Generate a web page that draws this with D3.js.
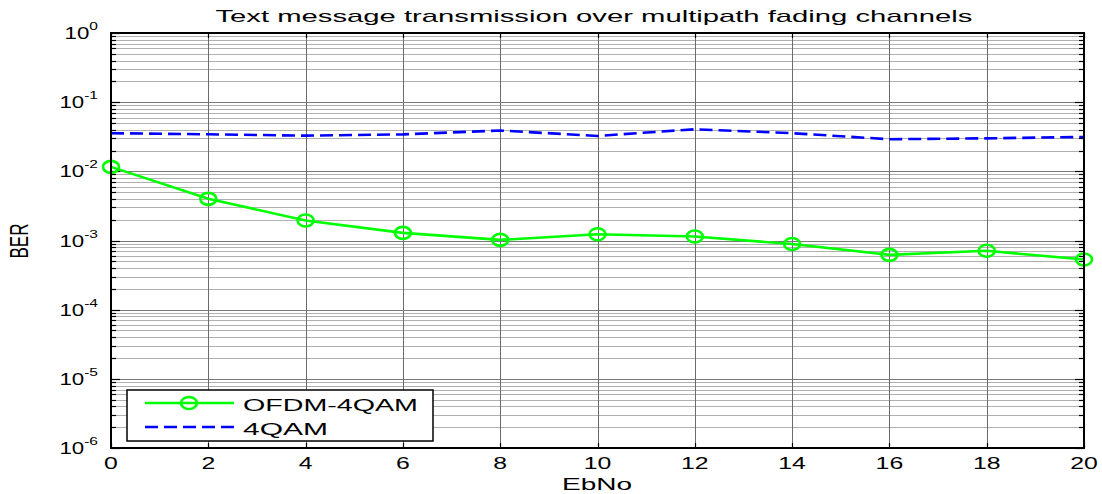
<!DOCTYPE html>
<html><head><meta charset="utf-8">
<script src="https://cdn.jsdelivr.net/npm/d3@7"></script>
<style>body{margin:0;background:#fff}svg{display:block}text{font-family:Arial,"Liberation Sans",sans-serif;fill:#000}</style>
</head><body><svg id="c" width="1102" height="494"></svg>
<script>
const ebno = [0,2,4,6,8,10,12,14,16,18,20];
const berOFDM = [0.0116,0.0040,0.00195,0.00129,0.00102,0.00123,0.00114,0.00089,0.00062,0.00071,0.00053];
const ber4QAM = [0.0356,0.0343,0.0328,0.0342,0.0389,0.0325,0.0406,0.0356,0.0291,0.0300,0.0314];
const xTicks = [0,2,4,6,8,10,12,14,16,18,20];
const yExps = [0,-1,-2,-3,-4,-5,-6];
const seriesNames = ["OFDM-4QAM","4QAM"];
const titleText = "Text message transmission over multipath fading channels";

const svg = d3.select("#c");
const L=111, R=1084, T=33, B=448;
const x = d3.scaleLinear().domain([0,20]).range([L,R]);
const y = d3.scaleLog().domain([1e-6,1]).range([B,T]);

const minor=[];
for(let e=-6;e<0;e++){for(let m=2;m<=9;m++){minor.push(m*Math.pow(10,e));}}

const g = svg.append("g");
g.selectAll(".hm").data(minor).join("line")
 .attr("x1",L).attr("x2",R).attr("y1",d=>Math.round(y(d))+0.5).attr("y2",d=>Math.round(y(d))+0.5)
 .attr("stroke","#b0b0b0").attr("stroke-width",1);
g.selectAll(".hM").data(yExps).join("line")
 .attr("x1",L).attr("x2",R).attr("y1",d=>Math.round(y(Math.pow(10,d)))+0.5).attr("y2",d=>Math.round(y(Math.pow(10,d)))+0.5)
 .attr("stroke","#7a7a7a").attr("stroke-width",1);
g.selectAll(".v").data(xTicks).join("line")
 .attr("x1",d=>Math.round(x(d))+0.5).attr("x2",d=>Math.round(x(d))+0.5).attr("y1",T).attr("y2",B)
 .attr("stroke","#6a6a6a").attr("stroke-width",1);

const tk = svg.append("g").attr("stroke","#000").attr("stroke-width",1.2);
xTicks.forEach(d=>{
  const xx=Math.round(x(d))+0.5;
  tk.append("line").attr("x1",xx).attr("x2",xx).attr("y1",B).attr("y2",B-5);
  tk.append("line").attr("x1",xx).attr("x2",xx).attr("y1",T).attr("y2",T+5);
});
minor.forEach(d=>{
  const yy=Math.round(y(d))+0.5;
  tk.append("line").attr("x1",L).attr("x2",L+5).attr("y1",yy).attr("y2",yy);
  tk.append("line").attr("x1",R).attr("x2",R-5).attr("y1",yy).attr("y2",yy);
});
yExps.forEach(e=>{
  const yy=Math.round(y(Math.pow(10,e)))+0.5;
  tk.append("line").attr("x1",L).attr("x2",L+9).attr("y1",yy).attr("y2",yy);
  tk.append("line").attr("x1",R).attr("x2",R-9).attr("y1",yy).attr("y2",yy);
});

const line = d3.line().x(d=>x(d[0])).y(d=>y(d[1]));
svg.append("path").datum(ebno.map((v,i)=>[v,ber4QAM[i]])).attr("d",line)
 .attr("fill","none").attr("stroke","#0000ff").attr("stroke-width",2.6).attr("stroke-dasharray","13,6");
svg.append("path").datum(ebno.map((v,i)=>[v,berOFDM[i]])).attr("d",line)
 .attr("fill","none").attr("stroke","#00ff00").attr("stroke-width",2.6);
svg.selectAll(".mk").data(ebno.map((v,i)=>[v,berOFDM[i]])).join("ellipse")
 .attr("cx",d=>x(d[0])).attr("cy",d=>y(d[1])).attr("rx",8).attr("ry",6)
 .attr("fill","none").attr("stroke","#00ff00").attr("stroke-width",2.6);

svg.append("rect").attr("x",L).attr("y",T).attr("width",R-L).attr("height",B-T)
 .attr("fill","none").attr("stroke","#000").attr("stroke-width",2);

yExps.forEach(e=>{
  const t = svg.append("text").attr("transform",`translate(98,${y(Math.pow(10,e))+6}) scale(1.35,1)`)
    .attr("text-anchor","end").attr("font-size",16.5);
  t.append("tspan").text("10");
  t.append("tspan").attr("dy",-9).attr("font-size",11.5).text(String(e));
});
xTicks.forEach(d=>{
  svg.append("text").attr("transform",`translate(${x(d)},469) scale(1.55,1)`)
   .attr("text-anchor","middle").attr("font-size",16).text(d);
});
svg.append("text").attr("x",594).attr("y",22).attr("text-anchor","middle").attr("font-size",17)
 .attr("textLength",757).attr("lengthAdjust","spacingAndGlyphs").text(titleText);
svg.append("text").attr("x",597).attr("y",490).attr("text-anchor","middle").attr("font-size",16)
 .attr("textLength",70).attr("lengthAdjust","spacingAndGlyphs").text("EbNo");
svg.append("text").attr("transform","translate(28,241) scale(1.5,1) rotate(-90)")
 .attr("text-anchor","middle").attr("font-size",17).text("BER");

const lg = svg.append("g");
lg.append("rect").attr("x",127).attr("y",390).attr("width",306).attr("height",51)
 .attr("fill","#fff").attr("stroke","#000").attr("stroke-width",1.5);
lg.append("line").attr("x1",145).attr("x2",234).attr("y1",403).attr("y2",403).attr("stroke","#00ff00").attr("stroke-width",2.6);
lg.append("ellipse").attr("cx",189).attr("cy",403).attr("rx",8).attr("ry",6).attr("fill","none").attr("stroke","#00ff00").attr("stroke-width",2.6);
lg.append("line").attr("x1",145).attr("x2",234).attr("y1",427).attr("y2",427).attr("stroke","#0000ff").attr("stroke-width",2.6).attr("stroke-dasharray","13,6");
lg.append("text").attr("x",243).attr("y",411).attr("font-size",16.5).attr("textLength",175).attr("lengthAdjust","spacingAndGlyphs").text(seriesNames[0]);
lg.append("text").attr("x",243).attr("y",435).attr("font-size",16.5).attr("textLength",85).attr("lengthAdjust","spacingAndGlyphs").text(seriesNames[1]);
</script></body></html>
